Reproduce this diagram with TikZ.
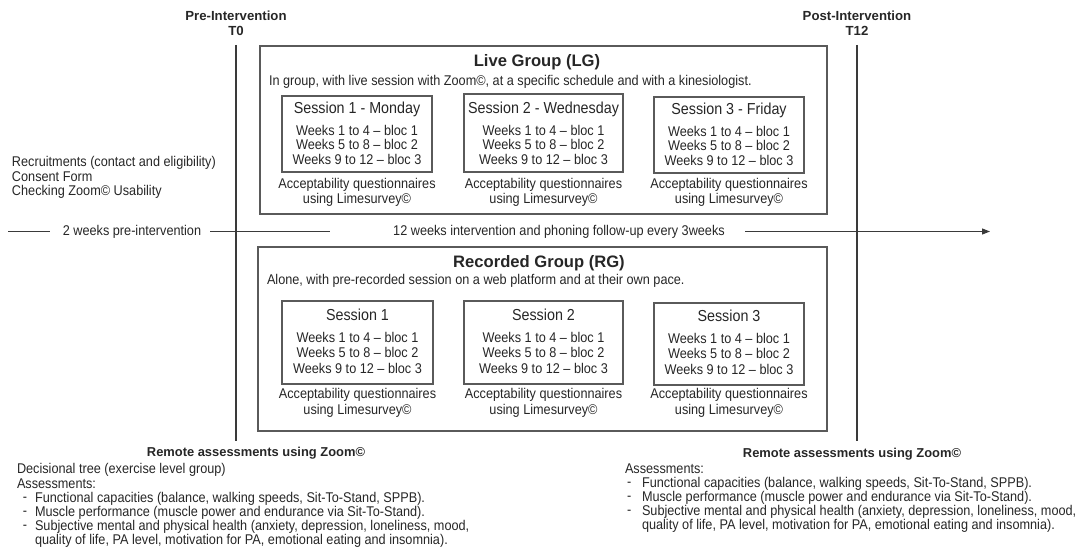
\documentclass[tikz,border=0pt]{standalone}
\usepackage{fontspec}
\setmainfont{Liberation Sans}
\newfontfamily\condf{Liberation Sans}[FakeStretch=0.9,Ligatures=TeX]
\usetikzlibrary{arrows.meta}
\definecolor{txt}{HTML}{262626}
\definecolor{ln}{HTML}{3A3A3A}
\definecolor{bx}{HTML}{5A5A5A}
\begin{document}
\begin{tikzpicture}[x=1pt,y=-1pt,
  every node/.style={inner sep=0pt,outer sep=0pt,text=txt},
  body/.style={font=\condf\fontsize{14.1}{14.5}\selectfont},
  bodyl/.style={body,anchor=west},
  hdr/.style={font=\bfseries\fontsize{13.2}{15}\selectfont,align=center},
  remote/.style={font=\bfseries\fontsize{12.9}{15}\selectfont},
  grptitle/.style={font=\bfseries\fontsize{16.6}{18}\selectfont},
  sesstitle/.style={font=\condf\fontsize{15.9}{16}\selectfont},
  weeks/.style={font=\condf\fontsize{14.1}{14.5}\selectfont,align=center},
  weeksr/.style={font=\condf\fontsize{14.1}{15.5}\selectfont,align=center},
  accept/.style={font=\condf\fontsize{14.1}{15}\selectfont,align=center},
  acceptr/.style={font=\condf\fontsize{14.1}{16}\selectfont,align=center},
  grpbox/.style={draw=bx,line width=1.1pt,rectangle,anchor=north west},
  sessbox/.style={draw=bx,line width=1.1pt,rectangle,anchor=north west},
  axis/.style={draw=ln,line width=1.1pt},
]
\useasboundingbox (0,0) rectangle (1081,556);

% time point headers and vertical lines
\node[hdr] (pre) at (236,23.5) {Pre-Intervention\\T0};
\node[hdr] (post) at (857,23.5) {Post-Intervention\\T12};
\coordinate (t0top) at (236,45);
\coordinate (t0bot) at (236,441);
\coordinate (t12top) at (857,45);
\coordinate (t12bot) at (857,441);
\draw[axis] (t0top) -- (t0bot);
\draw[axis] (t12top) -- (t12bot);

% recruitment
\node[body,anchor=west,align=left] (recr) at (12,177.5) {Recruitments (contact and eligibility)\\Consent Form\\Checking Zoom© Usability};

% Live group
\node[grpbox,minimum width=567,minimum height=168] (lg) at (260,46) {};
\node[grptitle] (lgt) at (537,62) {Live Group (LG)};
\node[bodyl] (lgd) at (269,82) {In group, with live session with Zoom©, at a specific schedule and with a kinesiologist.};

\node[sessbox,minimum width=150,minimum height=76] (lg1) at (282,96) {};
\node[sessbox,minimum width=159,minimum height=78] (lg2) at (464,94) {};
\node[sessbox,minimum width=150,minimum height=76] (lg3) at (654,97) {};
\node[sesstitle] (lg1t) at (357,109) {Session 1 - Monday};
\node[sesstitle] (lg2t) at (543.5,109) {Session 2 - Wednesday};
\node[sesstitle] (lg3t) at (729,110) {Session 3 - Friday};
\node[weeks] (lg1w) at (357,144.5) {Weeks 1 to 4 – bloc 1\\Weeks 5 to 8 – bloc 2\\Weeks 9 to 12 – bloc 3};
\node[weeks] (lg2w) at (543.5,144.5) {Weeks 1 to 4 – bloc 1\\Weeks 5 to 8 – bloc 2\\Weeks 9 to 12 – bloc 3};
\node[weeks] (lg3w) at (729,145.5) {Weeks 1 to 4 – bloc 1\\Weeks 5 to 8 – bloc 2\\Weeks 9 to 12 – bloc 3};
\node[accept] (lg1a) at (357,192.5) {Acceptability questionnaires\\using Limesurvey©};
\node[accept] (lg2a) at (543.5,192.5) {Acceptability questionnaires\\using Limesurvey©};
\node[accept] (lg3a) at (729,192.5) {Acceptability questionnaires\\using Limesurvey©};

% time axis
\coordinate (ax0) at (8,231.5);
\coordinate (ax1) at (50,231.5);
\node[body] (prew) at (132,231.5) {2 weeks pre-intervention};
\coordinate (ax2) at (210,231.5);
\coordinate (ax3) at (330,231.5);
\node[body] (intw) at (559,231.5) {12 weeks intervention and phoning follow-up every 3weeks};
\coordinate (ax4) at (745,231.5);
\coordinate (ax5) at (990,231.5);
\draw[axis] (ax0) -- (ax1);
\draw[axis] (ax2) -- (ax3);
\draw[axis,-{Triangle[length=8pt,width=6pt]}] (ax4) -- (ax5);

% Recorded group
\node[grpbox,minimum width=569,minimum height=184] (rg) at (258,247) {};
\node[grptitle] (rgt) at (539,263) {Recorded Group (RG)};
\node[bodyl] (rgd) at (267,281) {Alone, with pre-recorded session on a web platform and at their own pace.};

\node[sessbox,minimum width=151,minimum height=83] (rg1) at (282,301) {};
\node[sessbox,minimum width=159,minimum height=83] (rg2) at (464,301) {};
\node[sessbox,minimum width=150,minimum height=82] (rg3) at (654,303) {};
\node[sesstitle] (rg1t) at (357.5,315) {Session 1};
\node[sesstitle] (rg2t) at (543.5,315) {Session 2};
\node[sesstitle] (rg3t) at (729,316) {Session 3};
\node[weeksr] (rg1w) at (357.5,352.5) {Weeks 1 to 4 – bloc 1\\Weeks 5 to 8 – bloc 2\\Weeks 9 to 12 – bloc 3};
\node[weeksr] (rg2w) at (543.5,352.5) {Weeks 1 to 4 – bloc 1\\Weeks 5 to 8 – bloc 2\\Weeks 9 to 12 – bloc 3};
\node[weeksr] (rg3w) at (729,353.5) {Weeks 1 to 4 – bloc 1\\Weeks 5 to 8 – bloc 2\\Weeks 9 to 12 – bloc 3};
\node[acceptr] (rg1a) at (357.5,403) {Acceptability questionnaires\\using Limesurvey©};
\node[acceptr] (rg2a) at (543.5,403) {Acceptability questionnaires\\using Limesurvey©};
\node[acceptr] (rg3a) at (729,403) {Acceptability questionnaires\\using Limesurvey©};

% bottom left assessments
\node[remote] (remL) at (256,453) {Remote assessments using Zoom©};
\node[bodyl] (decL) at (17,470) {Decisional tree (exercise level group)};
\node[bodyl] (assL) at (17,484) {Assessments:};
\node[bodyl] (dL1) at (23,499) {-};
\node[bodyl] (dL2) at (23,513) {-};
\node[bodyl] (dL3) at (23,527) {-};
\node[bodyl] (bL1) at (35,499) {Functional capacities (balance, walking speeds, Sit-To-Stand, SPPB).};
\node[bodyl] (bL2) at (35,513) {Muscle performance (muscle power and endurance via Sit-To-Stand).};
\node[bodyl] (bL3) at (35,527) {Subjective mental and physical health (anxiety, depression, loneliness, mood,};
\node[bodyl] (bL4) at (35,541) {quality of life, PA level, motivation for PA, emotional eating and insomnia).};

% bottom right assessments
\node[remote] (remR) at (852,454) {Remote assessments using Zoom©};
\node[bodyl] (assR) at (625,469) {Assessments:};
\node[bodyl] (dR1) at (627,484) {-};
\node[bodyl] (dR2) at (627,498) {-};
\node[bodyl] (dR3) at (627,512) {-};
\node[bodyl] (bR1) at (642,484) {Functional capacities (balance, walking speeds, Sit-To-Stand, SPPB).};
\node[bodyl] (bR2) at (642,498) {Muscle performance (muscle power and endurance via Sit-To-Stand).};
\node[bodyl] (bR3) at (642,512) {Subjective mental and physical health (anxiety, depression, loneliness, mood,};
\node[bodyl] (bR4) at (642,526) {quality of life, PA level, motivation for PA, emotional eating and insomnia).};
\end{tikzpicture}
\end{document}
